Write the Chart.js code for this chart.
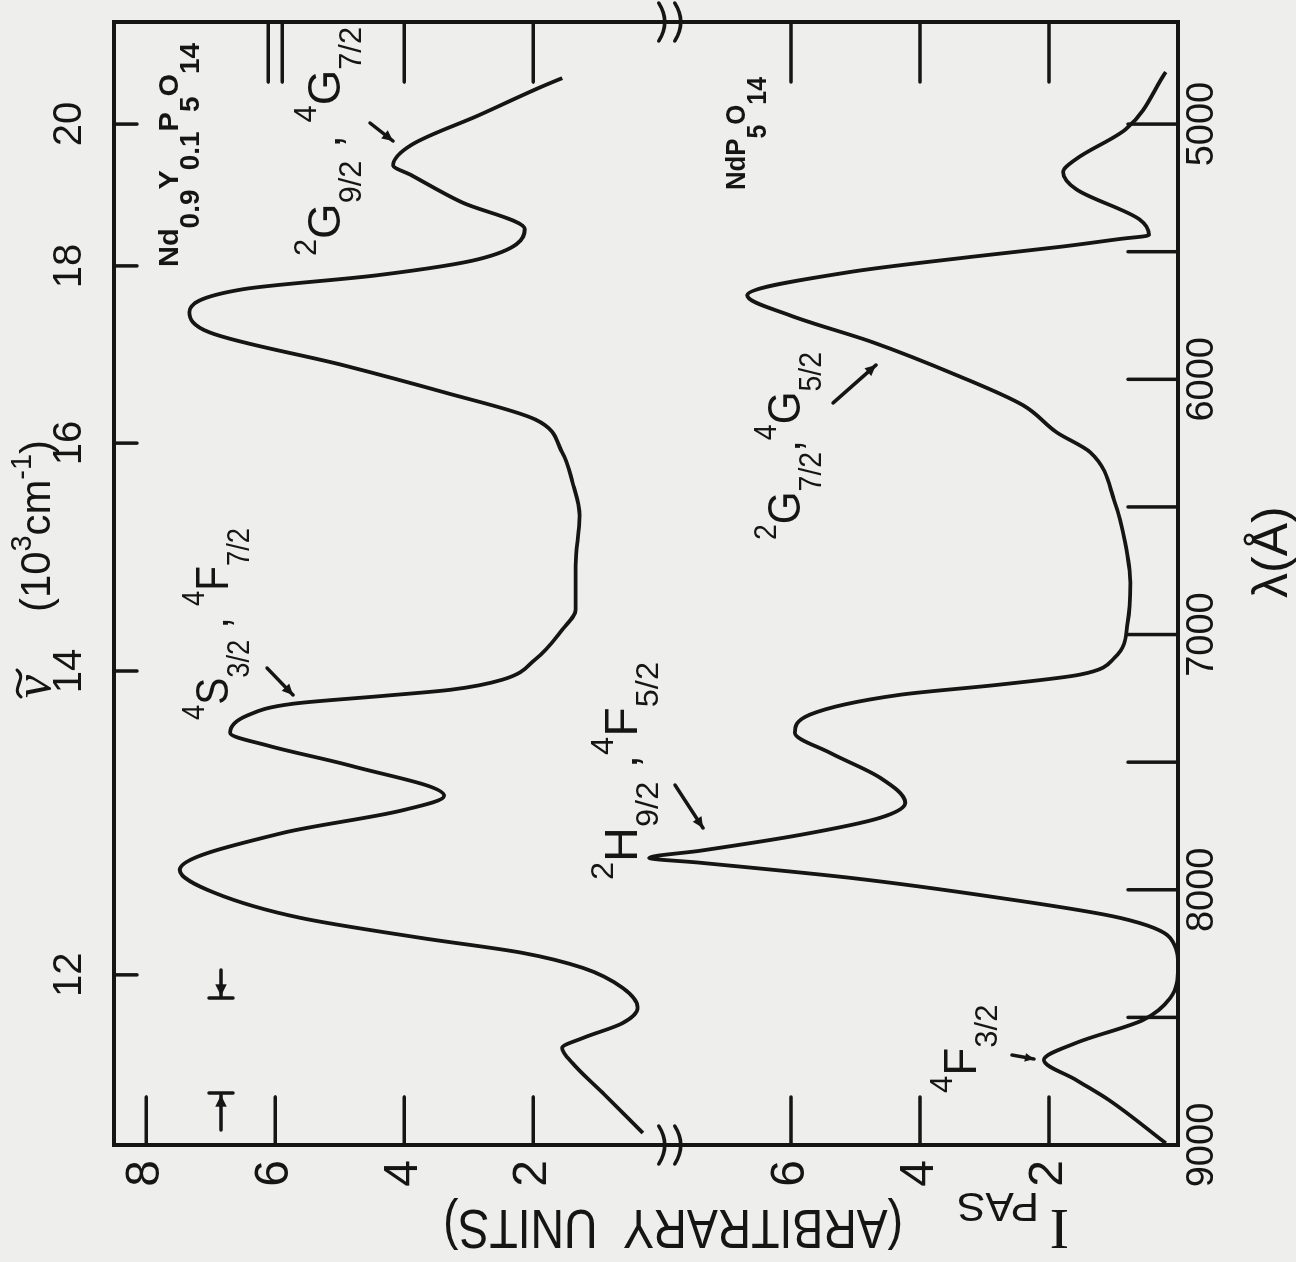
<!DOCTYPE html>
<html>
<head>
<title>PAS spectra of Nd pentaphosphates</title>
<script src="https://cdn.jsdelivr.net/npm/chart.js"></script>
<style>
  html, body { margin: 0; padding: 0; background: #eeeeec; overflow: hidden; }
  /* the figure is drawn upright and then turned a quarter turn, as in the scan */
  #wrap { position: absolute; left: 0; top: 0; width: 1262px; height: 1296px;
          transform-origin: 0 0; transform: translateY(1262px) rotate(-90deg); }
</style>
</head>
<body>
<div id="wrap"><canvas id="chart" width="1262" height="1296"></canvas></div>
<script>
// wavelength (Angstrom) and I_PAS for Nd0.9Y0.1P5O14 (upper trace)
const upperLambda = [8953, 8894, 8796, 8679, 8620, 8581, 8522, 8463, 8385, 8306, 8247, 8189, 8110, 8012, 7922,
    7777, 7690, 7632, 7514, 7436, 7385, 7318, 7271, 7240, 7216, 7177, 7098, 6981, 6902, 6730,
    6534, 6404, 6286, 6157, 6051, 5945, 5816, 5737, 5647, 5592, 5529, 5412, 5306, 5200, 5161,
    5082, 4965, 4847, 4820];
const upperSignal = [0.30, 0.53, 0.92, 1.39, 1.55, 1.23, 0.61, 0.38, 0.61, 1.23, 2.17, 3.73, 5.61, 6.94, 7.48,
    5.88, 4.05, 3.38, 4.83, 6.10, 6.70, 6.44, 5.72, 4.31, 3.27, 2.48, 1.97, 1.55, 1.34, 1.34,
    1.28, 1.39, 1.55, 1.97, 3.38, 4.94, 7.02, 7.33, 6.50, 4.41, 2.84, 2.13, 3.11, 3.89, 4.17,
    3.89, 2.84, 1.81, 1.55];

// NdP5O14 (lower trace)
const lowerLambda = [8993, 8824, 8745, 8667, 8600, 8510, 8424, 8306, 8189, 8110, 8032, 7953, 7894, 7875, 7847,
    7785, 7718, 7659, 7561, 7463, 7385, 7314, 7236, 7196, 7157, 7090, 6953, 6796, 6639, 6482,
    6286, 6208, 6102, 5984, 5855, 5749, 5671, 5580, 5520, 5480, 5450, 5435, 5373, 5255, 5188,
    5137, 5020, 4796];
const lowerSignal = [0.19, 1.07, 1.58, 2.08, 1.58, 0.54, 0.12, 0.00, 0.12, 0.90, 2.76, 5.09, 7.41, 8.20, 7.41,
    5.86, 4.62, 4.23, 4.62, 5.40, 5.94, 5.71, 4.31, 2.76, 1.52, 0.98, 0.78, 0.74, 0.82, 0.98,
    1.36, 1.88, 2.40, 3.43, 4.73, 6.02, 6.68, 5.10, 3.20, 1.80, 0.90, 0.45, 0.60, 1.58, 1.78,
    1.58, 0.81, 0.19];

const upperOffset = 8;                 // upper panel sits 8 units above the lower one
const lambdaLabels = [5000, 6000, 7000, 8000, 9000];
const lambdaMarks = [5000, 5500, 6000, 6500, 7000, 7500, 8000, 8500];
const wavenumbers = [12, 14, 16, 18, 20];   // 10^3 cm^-1
const upperTicks = [2, 4, 6, 8];
const lowerTicks = [2, 4, 6];
const breakAt = 7.85;

const ink = '#151515';
const sans = '"Liberation Sans", Arial, sans-serif';

function line(ctx, x1, y1, x2, y2) {
    ctx.beginPath(); ctx.moveTo(x1, y1); ctx.lineTo(x2, y2); ctx.stroke();
}

function arrow(ctx, x1, y1, x2, y2, head) {
    line(ctx, x1, y1, x2, y2);
    const a = Math.atan2(y2 - y1, x2 - x1);
    ctx.beginPath();
    ctx.moveTo(x2, y2);
    ctx.lineTo(x2 - head * Math.cos(a - 0.45), y2 - head * Math.sin(a - 0.45));
    ctx.lineTo(x2 - head * Math.cos(a + 0.45), y2 - head * Math.sin(a + 0.45));
    ctx.closePath();
    ctx.fill();
}

// text with super/subscripts: parts = [[text, 'n'|'sup'|'sub'], ...]
// if fit is given the whole string is squeezed to that width
function rich(ctx, x, y, parts, st, fit) {
    const fontOf = m => (st.weight || '') + ' ' + (m === 'n' ? st.size : st.small) + 'px ' + sans;
    let total = 0;
    for (const [t, m] of parts) { ctx.font = fontOf(m); total += ctx.measureText(t).width; }
    const k = fit ? fit / total : 1;
    ctx.save();
    ctx.translate(x, y);
    ctx.scale(k, 1);
    let cx = 0;
    for (const [t, m] of parts) {
        const dy = m === 'sup' ? -st.up : m === 'sub' ? st.down : 0;
        ctx.font = fontOf(m);
        ctx.fillText(t, cx, dy);
        cx += ctx.measureText(t).width;
    }
    ctx.restore();
}

const termStyle = { size: 46, small: 31, up: 24, down: 21 };
const nameStyle = { size: 28, small: 27, up: 0, down: 21, weight: 'bold' };

function breakMark(ctx, x, y) {
    for (const dy of [-8, 8]) {
        ctx.beginPath();
        ctx.moveTo(x - 19, y + dy - 5);
        ctx.quadraticCurveTo(x, y + dy + 7, x + 19, y + dy - 5);
        ctx.stroke();
    }
}

const paper = {
    id: 'paper',
    beforeDraw(chart) {
        const ctx = chart.ctx;
        ctx.save();
        ctx.fillStyle = '#eeeeec';
        ctx.fillRect(0, 0, chart.width, chart.height);
        ctx.restore();
    },
    afterDatasetsDraw(chart) {
        const { ctx, chartArea: a, scales } = chart;
        const xs = scales.x, ys = scales.y;
        ctx.save();
        ctx.strokeStyle = ink;
        ctx.fillStyle = ink;
        ctx.lineCap = 'round';
        ctx.lineWidth = 4;
        ctx.strokeRect(a.left, a.top, a.right - a.left, a.bottom - a.top);

        ctx.lineWidth = 3.5;
        // intensity ticks, left edge (short) and right edge (long)
        const leftVals = lowerTicks.concat(upperTicks.map(u => u + upperOffset));
        for (const v of leftVals) {
            const py = ys.getPixelForValue(v);
            line(ctx, a.left, py, a.left + 48, py);
        }
        const rightVals = lowerTicks.concat([2, 4].map(u => u + upperOffset));
        for (const v of rightVals) {
            const py = ys.getPixelForValue(v);
            line(ctx, a.right, py, a.right - 60, py);
        }
        const six = ys.getPixelForValue(6 + upperOffset);
        line(ctx, a.right, six - 7, a.right - 60, six - 7);
        line(ctx, a.right, six + 7, a.right - 60, six + 7);

        // wavelength ticks (bottom) and wavenumber ticks (top)
        for (const l of lambdaMarks) {
            const px = xs.getPixelForValue(l);
            line(ctx, px, a.bottom, px, a.bottom - 50);
        }
        for (const n of wavenumbers) {
            const px = xs.getPixelForValue(1e5 / n);
            line(ctx, px, a.top, px, a.top + 23);
        }

        // axis breaks between the two panels
        const pb = ys.getPixelForValue(breakAt);
        breakMark(ctx, a.left, pb);
        breakMark(ctx, a.right, pb);

        // resolution markers
        const ry = 221;
        arrow(ctx, 132, ry, 167, ry, 13);
        line(ctx, 169, ry - 12, 169, ry + 12);
        arrow(ctx, 292, ry, 266, ry, 13);
        line(ctx, 264, ry - 12, 264, ry + 12);

        ctx.textBaseline = 'alphabetic';
        ctx.textAlign = 'left';

        // sample names
        rich(ctx, 995, 178, [['Nd', 'n'], ['0.9', 'sub'], ['Y', 'n'], ['0.1', 'sub'], ['P', 'n'], ['5', 'sub'], ['O', 'n'], ['14', 'sub']],
            nameStyle, 224);
        rich(ctx, 1072, 745, [['Nd', 'n'], ['P', 'n'], ['5', 'sub'], ['O', 'n'], ['14', 'sub']], nameStyle, 113);

        // level assignments
        rich(ctx, 1006, 340, [['2', 'sup'], ['G', 'n'], ['9/2', 'sub'], [' , ', 'n'], ['4', 'sup'], ['G', 'n'], ['7/2', 'sub']],
            termStyle, 229);
        arrow(ctx, 1139, 370, 1121, 393, 12);
        rich(ctx, 542, 228, [['4', 'sup'], ['S', 'n'], ['3/2', 'sub'], [' , ', 'n'], ['4', 'sup'], ['F', 'n'], ['7/2', 'sub']],
            termStyle, 192);
        arrow(ctx, 594, 267, 567, 293, 12);
        rich(ctx, 382, 637, [['2', 'sup'], ['H', 'n'], ['9/2', 'sub'], [' ,', 'n'], ['4', 'sup'], ['F', 'n'], ['5/2', 'sub']],
            termStyle, 218);
        arrow(ctx, 477, 675, 434, 703, 12);
        rich(ctx, 722, 800, [['2', 'sup'], ['G', 'n'], ['7/2', 'sub'], [',', 'n'], ['4', 'sup'], ['G', 'n'], ['5/2', 'sub']],
            termStyle, 188);
        arrow(ctx, 859, 833, 897, 876, 12);
        rich(ctx, 169, 976, [['4', 'sup'], ['F', 'n'], ['3/2', 'sub']], termStyle);
        arrow(ctx, 207, 1012, 203, 1034, 10);

        // top axis title: nu-tilde (10^3 cm^-1)
        ctx.font = 'italic 52px "Liberation Serif", serif';
        ctx.fillText('\u03BD', 564, 50);
        ctx.lineWidth = 3;
        ctx.beginPath();
        ctx.moveTo(565, 21);
        ctx.bezierCurveTo(574, 10, 583, 28, 592, 17);
        ctx.stroke();
        rich(ctx, 650, 50, [['(10', 'n'], ['3', 'sup'], ['cm', 'n'], ['-1', 'sup'], [')', 'n']],
            { size: 42, small: 29, up: 19, down: 0 }, 172);

        // bottom axis title
        rich(ctx, 664, 1287, [['\u03BB(\u00C5)', 'n']], { size: 50, small: 30, up: 0, down: 0 });

        // vertical axis title
        ctx.save();
        ctx.translate(52, 1069);
        ctx.rotate(-Math.PI / 2);
        ctx.font = '58px "Liberation Serif", serif';
        ctx.fillText('I', 0, 0);
        ctx.save();
        ctx.font = '40px ' + sans;
        const wP = ctx.measureText('PAS').width;
        ctx.translate(30, 17);
        ctx.scale(82 / wP, 1);
        ctx.fillText('PAS', 0, 0);
        ctx.restore();
        ctx.font = '56px ' + sans;
        const label = '(ARBITRARY  UNITS)';
        const wL = ctx.measureText(label).width;
        ctx.translate(166, 0);
        ctx.scale(460 / wL, 1);
        ctx.fillText(label, 0, 0);
        ctx.restore();

        ctx.restore();
    }
};

const ctx = document.getElementById('chart').getContext('2d');
new Chart(ctx, {
    type: 'line',
    data: {
        datasets: [{
            label: 'Nd0.9Y0.1P5O14',
            data: upperLambda.map((l, i) => ({ x: l, y: upperSignal[i] + upperOffset })),
            borderColor: ink,
            borderWidth: 3.8,
            pointRadius: 0,
            cubicInterpolationMode: 'monotone',
            clip: false,
            xAxisID: 'x', yAxisID: 'y'
        }, {
            label: 'NdP5O14',
            data: lowerLambda.map((l, i) => ({ x: l, y: lowerSignal[i] })),
            borderColor: ink,
            borderWidth: 3.8,
            pointRadius: 0,
            cubicInterpolationMode: 'monotone',
            clip: false,
            xAxisID: 'x', yAxisID: 'y'
        }]
    },
    options: {
        responsive: false,
        animation: false,
        layout: { padding: 0 },
        plugins: { legend: { display: false }, tooltip: { enabled: false } },
        scales: {
            x: {
                type: 'linear', position: 'bottom', reverse: true, min: 4600, max: 9000,
                grid: { display: false, drawTicks: false }, border: { display: false },
                afterBuildTicks: s => { s.ticks = lambdaLabels.map(v => ({ value: v })); },
                afterFit: s => { s.height = 118; },
                ticks: { autoSkip: false, maxRotation: 0, padding: 2, color: ink,
                         font: { family: sans, size: 38 }, callback: v => String(v) }
            },
            x2: {
                type: 'linear', position: 'top', reverse: true, min: 4600, max: 9000,
                grid: { display: false, drawTicks: false }, border: { display: false },
                afterBuildTicks: s => { s.ticks = wavenumbers.map(n => ({ value: 1e5 / n })); },
                afterFit: s => { s.height = 114; },
                ticks: { autoSkip: false, maxRotation: 0, padding: 20, color: ink,
                         font: { family: sans, size: 40 }, callback: v => String(Math.round(1e5 / v)) }
            },
            y: {
                type: 'linear', position: 'left', min: 0, max: 16.5,
                grid: { display: false, drawTicks: false }, border: { display: false },
                afterBuildTicks: s => {
                    s.ticks = lowerTicks.concat(upperTicks.map(u => u + upperOffset)).map(v => ({ value: v }));
                },
                afterFit: s => { s.width = 117; },
                ticks: { autoSkip: false, padding: 15, color: ink,
                         font: { family: sans, size: 48 }, callback: v => String(v > upperOffset ? v - upperOffset : v) }
            },
            y2: {
                type: 'linear', position: 'right', min: 0, max: 16.5,
                grid: { display: false, drawTicks: false }, border: { display: false },
                afterFit: s => { s.width = 22; },
                ticks: { display: false }
            }
        }
    },
    plugins: [paper]
});
</script>
</body>
</html>
